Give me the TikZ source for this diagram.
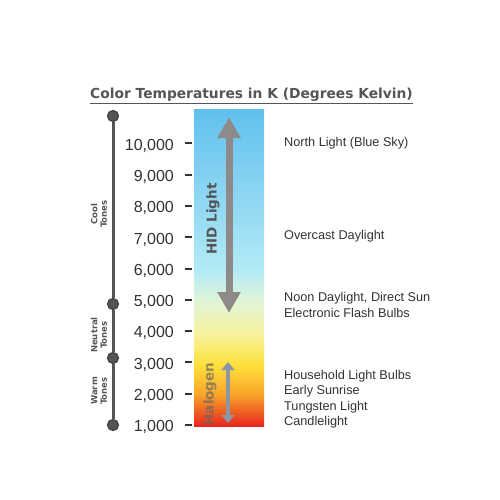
\documentclass[tikz,border=0pt]{standalone}
\usepackage{fontspec}
\setmainfont{Liberation Sans}
\newfontfamily\boldface{DejaVu Sans}
\usetikzlibrary{arrows.meta}

\definecolor{linegray}{HTML}{555555}
\definecolor{textgray}{HTML}{333333}
\definecolor{arrowgray}{HTML}{8E8A8A}
\definecolor{halogray}{HTML}{8C96A6}
\definecolor{sky1}{HTML}{62C0EE}
\definecolor{sky2}{HTML}{B2EAF6}
\definecolor{pale1}{HTML}{E0F5D8}
\definecolor{pale2}{HTML}{F8F29A}
\definecolor{warm1}{HTML}{FDE03A}
\definecolor{warm2}{HTML}{F8A22A}
\definecolor{warm3}{HTML}{E8261C}

\tikzset{
  dot/.style={circle, fill=linegray, draw=black!75, line width=1.2pt, minimum size=11pt, inner sep=0pt},
  tonelabel/.style={rotate=90, align=center, font=\boldface\bfseries\fontsize{8.5}{9.5}\selectfont, text=linegray},
  kelvin/.style={anchor=base east, font=\fontsize{16}{18}\selectfont, text=textgray, inner sep=0pt},
  source/.style={anchor=base west, font=\fontsize{12.7}{14}\selectfont, text=textgray, inner sep=0pt},
  lamp/.style={rotate=90, font=\boldface\bfseries\fontsize{13.5}{15}\selectfont}
}

\begin{document}
\begin{tikzpicture}[x=1pt, y=-1pt]
    \useasboundingbox[fill=white] (0,0) rectangle (500,500);

    % title
    \node (title) at (251.5,96) [font=\boldface\bfseries\fontsize{13.8}{16}\selectfont, text=linegray] {\underline{Color Temperatures in K (Degrees Kelvin)}};

    % colour bar
    \shade[top color=sky1, bottom color=sky2] (194,110) rectangle (264,270.5);
    \shade[top color=sky2, bottom color=pale1] (194,270) rectangle (264,300.5);
    \shade[top color=pale1, bottom color=pale2] (194,300) rectangle (264,335.5);
    \shade[top color=pale2, bottom color=warm1] (194,335) rectangle (264,365.5);
    \shade[top color=warm1, bottom color=warm2] (194,365) rectangle (264,395.5);
    \shade[top color=warm2, bottom color=warm3] (194,395) rectangle (264,426);

    % tone scale
    \node (cool) [dot] at (113,116) {};
    \node (neutral) [dot] at (113,304) {};
    \node (warm) [dot] at (113,358) {};
    \node (low) [dot] at (113,425) {};
    \draw[linegray, line width=3pt] (cool) -- (neutral) -- (warm) -- (low);
    \node (cooltxt) [tonelabel] at (99,214) {Cool\\Tones};
    \node (neutraltxt) [tonelabel] at (99,335) {Neutral\\Tones};
    \node (warmtxt) [tonelabel] at (99,391) {Warm\\Tones};

    % kelvin values
    \foreach \k/\val in {1/{1,000},2/{2,000},3/{3,000},4/{4,000},5/{5,000},6/{6,000},7/{7,000},8/{8,000},9/{9,000},10/{10,000}} {
        \node (k\k) [kelvin] at (174,{431.8-(\k-1)*31.3}) {\val};
        \coordinate (t\k) at (185,{425-(\k-1)*31.3});
        \draw[textgray, line width=2pt] (t\k) -- ++(7,0);
    }

    % lamp ranges
    \coordinate (hidtop) at (229,117);
    \coordinate (hidbot) at (229,313);
    \draw[arrowgray, line width=7pt, {Triangle[width=22pt,length=21pt]}-{Triangle[width=22pt,length=21pt]}] (hidtop) -- (hidbot);
    \node (hid) [lamp, text=linegray] at (213,219) {HID Light};
    \coordinate (halotop) at (228,362);
    \coordinate (halobot) at (228,423);
    \draw[halogray, line width=3.5pt, {Triangle[width=13pt,length=8pt]}-{Triangle[width=13pt,length=8pt]}] (halotop) -- (halobot);
    \node (halogen) [lamp, text=black!60, text opacity=0.7] at (210,394) {Halogen};

    % light sources
    \node (north) [source] at (284,146.5) {North Light (Blue Sky)};
    \node (overcast) [source] at (284,239.5) {Overcast Daylight};
    \node (noon) [source] at (284,301.5) {Noon Daylight, Direct Sun};
    \node (flash) [source] at (284,317.5) {Electronic Flash Bulbs};
    \node (house) [source] at (284,379.5) {Household Light Bulbs};
    \node (sunrise) [source] at (284,394.5) {Early Sunrise};
    \node (tungsten) [source] at (284,410.5) {Tungsten Light};
    \node (candle) [source] at (284,425.5) {Candlelight};
\end{tikzpicture}
\end{document}
